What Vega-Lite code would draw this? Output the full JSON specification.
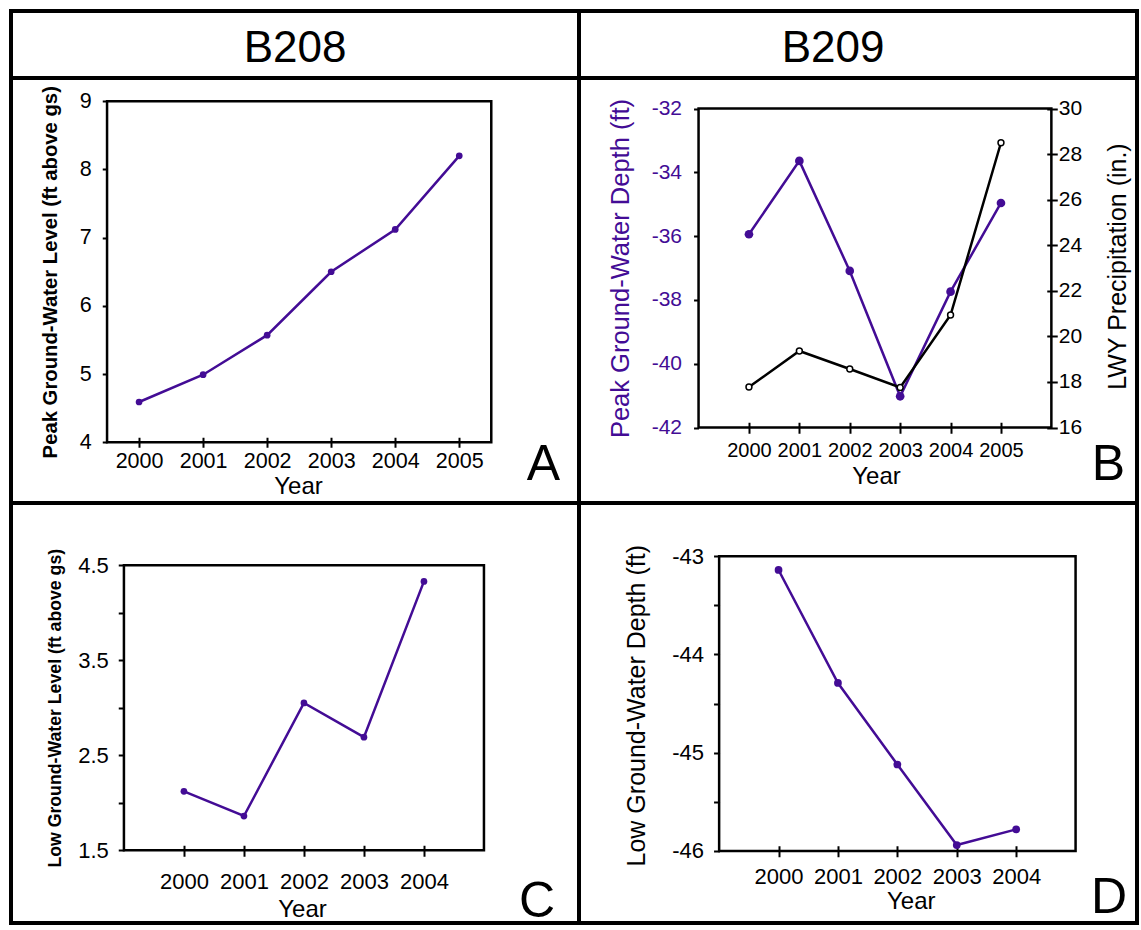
{
  "$schema": "https://vega.github.io/schema/vega-lite/v6.json",
  "padding": {"left": 9, "top": 9, "right": 0, "bottom": 0},
  "config": {
    "font": "Liberation Sans",
    "view": {"stroke": "black", "strokeWidth": 4},
    "axis": {"domain": false, "grid": false, "tickColor": "black", "tickWidth": 2, "labelColor": "black", "labelFontSize": 21, "titleFontSize": 25, "titleFontWeight": "normal", "titleColor": "black", "labelOverlap": false, "labelFlush": false, "labelBound": false},
    "title": {"font": "Liberation Sans", "fontWeight": "normal", "fontSize": 50, "color": "black"}
  },
  "datasets": {
    "peakB208": [
      {"year": 2000, "level": 4.59}, {"year": 2001, "level": 4.99}, {"year": 2002, "level": 5.57},
      {"year": 2003, "level": 6.50}, {"year": 2004, "level": 7.12}, {"year": 2005, "level": 8.20}
    ],
    "peakB209": [
      {"year": 2000, "depth": -35.94, "precip": 17.78}, {"year": 2001, "depth": -33.64, "precip": 19.36},
      {"year": 2002, "depth": -37.09, "precip": 18.57}, {"year": 2003, "depth": -41.02, "precip": 17.76},
      {"year": 2004, "depth": -37.74, "precip": 20.94}, {"year": 2005, "depth": -34.96, "precip": 28.5}
    ],
    "lowB208": [
      {"year": 2000, "level": 2.12}, {"year": 2001, "level": 1.86}, {"year": 2002, "level": 3.05},
      {"year": 2003, "level": 2.69}, {"year": 2004, "level": 4.33}
    ],
    "lowB209": [
      {"year": 2000, "depth": -43.14}, {"year": 2001, "depth": -44.29}, {"year": 2002, "depth": -45.12},
      {"year": 2003, "depth": -45.94}, {"year": 2004, "depth": -45.78}
    ]
  },
  "columns": 2,
  "spacing": 0,
  "bounds": "flush",
  "align": "each",
  "concat": [
    {
      "width": 568, "height": 67,
      "data": {"values": [{"station": "B208"}]},
      "mark": {"type": "text", "fontSize": 44, "baseline": "alphabetic", "dy": 17, "color": "black"},
      "encoding": {
        "x": {"datum": 0, "scale": {"domain": [-1, 1]}, "axis": null},
        "y": {"datum": 0, "scale": {"domain": [-1, 1]}, "axis": null},
        "text": {"field": "station"}
      }
    },
    {
      "width": 558, "height": 67,
      "data": {"values": [{"station": "B209"}]},
      "mark": {"type": "text", "fontSize": 44, "baseline": "alphabetic", "dy": 17, "dx": -25, "color": "black"},
      "encoding": {
        "x": {"datum": 0, "scale": {"domain": [-1, 1]}, "axis": null},
        "y": {"datum": 0, "scale": {"domain": [-1, 1]}, "axis": null},
        "text": {"field": "station"}
      }
    },
    {
      "width": 568, "height": 425,
      "title": {"text": "A", "orient": "bottom", "anchor": "end", "frame": "group", "baseline": "alphabetic", "offset": -23, "dx": -19},
      "data": {"name": "peakB208"},
      "layer": [
        {
          "data": {"values": [{}]},
          "mark": {"type": "rect", "fillOpacity": 0, "stroke": "black", "strokeWidth": 2.5},
          "encoding": {
            "x": {"datum": 1999.5, "scale": {"domain": [1998, 2006.87], "nice": false, "zero": false}},
            "x2": {"datum": 2005.5},
            "y": {"datum": 4, "scale": {"domain": [3.109, 9.341], "nice": false, "zero": false}},
            "y2": {"datum": 9}
          }
        },
        {
          "mark": {"type": "line", "color": "#430c95", "strokeWidth": 2.5, "point": {"filled": true, "size": 45, "color": "#430c95"}},
          "encoding": {
            "x": {"field": "year", "type": "quantitative", "scale": {"domain": [1998, 2006.87], "nice": false, "zero": false},
              "axis": {"title": "Year", "values": [2000, 2001, 2002, 2003, 2004, 2005], "format": "d", "offset": -65.75, "tickSize": 10, "labelPadding": 3, "labelFontSize": 21.5, "titleFontSize": 24, "titleX": 287, "titleY": 56, "titleBaseline": "alphabetic"}},
            "y": {"field": "level", "type": "quantitative", "scale": {"domain": [3.109, 9.341], "nice": false, "zero": false},
              "axis": {"title": "Peak Ground-Water Level (ft above gs)", "values": [4, 5, 6, 7, 8, 9], "format": "d", "offset": -96.25, "tickSize": 5, "labelPadding": 11, "labelFontSize": 21.5, "titleFontSize": 20.3, "titleFontWeight": "bold", "titleX": -57, "titleY": 193.75, "titleAngle": 270, "titleBaseline": "middle"}}
          }
        }
      ]
    },
    {
      "width": 558, "height": 425,
      "title": {"text": "B", "orient": "bottom", "anchor": "end", "frame": "group", "baseline": "alphabetic", "offset": -23, "dx": -12},
      "data": {"name": "peakB209"},
      "layer": [
        {
          "layer": [
            {
              "data": {"values": [{}]},
              "mark": {"type": "rect", "fillOpacity": 0, "stroke": "black", "strokeWidth": 2.5},
              "encoding": {
                "x": {"datum": 1999, "scale": {"domain": [1996.628, 2007.699], "nice": false, "zero": false}},
                "x2": {"datum": 2006},
                "y": {"datum": -42, "scale": {"domain": [-44.365, -31.042], "nice": false, "zero": false}},
                "y2": {"datum": -32}
              }
            },
            {
              "mark": {"type": "line", "color": "#430c95", "strokeWidth": 2.5, "point": {"filled": true, "size": 75, "color": "#430c95"}},
              "encoding": {
                "x": {"field": "year", "type": "quantitative", "scale": {"domain": [1996.628, 2007.699], "nice": false, "zero": false},
                  "axis": {"title": "Year", "values": [2000, 2001, 2002, 2003, 2004, 2005], "format": "d", "offset": -80.75, "tickSize": 11, "labelPadding": 7, "labelFontSize": 20, "titleFontSize": 24, "titleX": 297, "titleY": 61, "titleBaseline": "alphabetic"}},
                "y": {"field": "depth", "type": "quantitative", "scale": {"domain": [-44.365, -31.042], "nice": false, "zero": false},
                  "axis": {"title": "Peak Ground-Water Depth (ft)", "values": [-42, -40, -38, -36, -34, -32], "labelExpr": "toString(datum.value)", "offset": -119.55, "tickSize": 5, "labelPadding": 12, "labelFontSize": 21, "titleFontSize": 25.5, "labelColor": "#430c95", "titleColor": "#430c95", "titleX": -78.3, "titleY": 190, "titleAngle": 270, "titleBaseline": "middle"}}
              }
            }
          ]
        },
        {
          "mark": {"type": "line", "color": "black", "strokeWidth": 2.5, "point": {"filled": false, "fill": "white", "color": "black", "size": 35, "strokeWidth": 1.5}},
          "encoding": {
            "x": {"field": "year", "type": "quantitative", "scale": {"domain": [1996.628, 2007.699], "nice": false, "zero": false}},
            "y": {"field": "precip", "type": "quantitative", "scale": {"domain": [12.689, 31.341], "nice": false, "zero": false},
              "axis": {"orient": "right", "title": "LWY Precipitation (in.)", "values": [16, 18, 20, 22, 24, 26, 28, 30], "offset": -90.25, "tickSize": 10.5, "labelPadding": 1, "labelFontSize": 21, "titleFontSize": 25, "titleX": 70.5, "titleY": 188, "titleAngle": 270, "titleBaseline": "middle"}}
          }
        }
      ],
      "resolve": {"scale": {"y": "independent"}, "axis": {"y": "independent"}}
    },
    {
      "width": 568, "height": 420,
      "title": {"text": "C", "orient": "bottom", "anchor": "end", "frame": "group", "baseline": "alphabetic", "offset": -6, "dx": -24},
      "data": {"name": "lowB208"},
      "layer": [
        {
          "data": {"values": [{}]},
          "mark": {"type": "rect", "fillOpacity": 0, "stroke": "black", "strokeWidth": 2.5},
          "encoding": {
            "x": {"datum": 1999, "scale": {"domain": [1997.118, 2006.584], "nice": false, "zero": false}},
            "x2": {"datum": 2005},
            "y": {"datum": 1.5, "scale": {"domain": [0.734, 5.155], "nice": false, "zero": false}},
            "y2": {"datum": 4.5}
          }
        },
        {
          "mark": {"type": "line", "color": "#430c95", "strokeWidth": 2.5, "point": {"filled": true, "size": 45, "color": "#430c95"}},
          "encoding": {
            "x": {"field": "year", "type": "quantitative", "scale": {"domain": [1997.118, 2006.584], "nice": false, "zero": false},
              "axis": {"title": "Year", "values": [2000, 2001, 2002, 2003, 2004], "format": "d", "offset": -77.75, "tickSize": 11, "labelPadding": 15, "labelFontSize": 22, "titleFontSize": 24, "titleX": 291, "titleY": 71, "titleBaseline": "alphabetic"}},
            "y": {"field": "level", "type": "quantitative", "scale": {"domain": [0.734, 5.155], "nice": false, "zero": false},
              "axis": {"title": "Low Ground-Water Level (ft above gs)", "values": [1.5, 2, 2.5, 3, 3.5, 4, 4.5], "labelExpr": "datum.value % 1 == 0.5 ? toString(datum.value) : ''", "offset": -113.25, "tickSize": 6, "labelPadding": 10, "labelFontSize": 22, "titleFontSize": 17.7, "titleFontWeight": "bold", "titleX": -69, "titleY": 204.75, "titleAngle": 270, "titleBaseline": "middle"}}
          }
        }
      ]
    },
    {
      "width": 558, "height": 420,
      "title": {"text": "D", "orient": "bottom", "anchor": "end", "frame": "group", "baseline": "alphabetic", "offset": -10, "dx": -10},
      "data": {"name": "lowB209"},
      "layer": [
        {
          "data": {"values": [{}]},
          "mark": {"type": "rect", "fillOpacity": 0, "stroke": "black", "strokeWidth": 2.5},
          "encoding": {
            "x": {"datum": 1999, "scale": {"domain": [1996.641, 2006.034], "nice": false, "zero": false}},
            "x2": {"datum": 2005},
            "y": {"datum": -46, "scale": {"domain": [-46.7335, -42.458], "nice": false, "zero": false}},
            "y2": {"datum": -43}
          }
        },
        {
          "mark": {"type": "line", "color": "#430c95", "strokeWidth": 2.5, "point": {"filled": true, "size": 60, "color": "#430c95"}},
          "encoding": {
            "x": {"field": "year", "type": "quantitative", "scale": {"domain": [1996.641, 2006.034], "nice": false, "zero": false},
              "axis": {"title": "Year", "values": [2000, 2001, 2002, 2003, 2004], "format": "d", "offset": -77.25, "tickSize": 11, "labelPadding": 10, "labelFontSize": 22, "titleFontSize": 24, "titleX": 331.75, "titleY": 62.5, "titleBaseline": "alphabetic"}},
            "y": {"field": "depth", "type": "quantitative", "scale": {"domain": [-46.7335, -42.458], "nice": false, "zero": false},
              "axis": {"title": "Low Ground-Water Depth (ft)", "values": [-46, -45.5, -45, -44.5, -44, -43.5, -43], "labelExpr": "datum.value % 1 == 0 ? toString(datum.value) : ''", "offset": -140.55, "tickSize": 6, "labelPadding": 10, "labelFontSize": 22, "titleFontSize": 25, "titleX": -83.3, "titleY": 202.25, "titleAngle": 270, "titleBaseline": "middle"}}
          }
        }
      ]
    }
  ]
}
